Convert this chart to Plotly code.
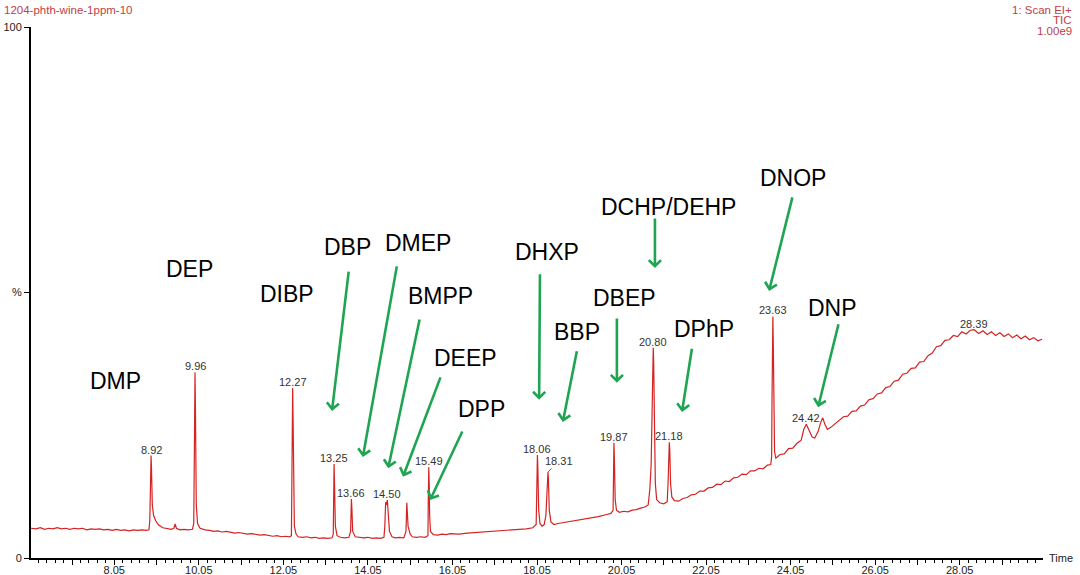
import plotly.graph_objects as go

# ---------------- data ----------------
rt_min = [
    6.08, 6.2, 6.3, 6.4, 6.5, 6.6, 6.7, 6.8, 6.9, 7.0, 7.1, 7.2, 7.3, 7.4, 7.5, 7.6, 7.7, 7.8, 7.9, 8.0, 8.1, 8.2, 8.3, 8.4, 8.5, 8.6, 8.7, 8.8, 8.87,
    8.89, 8.91, 8.92, 8.93, 8.95, 8.98, 9.03, 9.1, 9.2, 9.3, 9.4, 9.46, 9.49, 9.52, 9.6, 9.7, 9.8, 9.9,
    9.93, 9.95, 9.96, 9.97, 9.99, 10.02, 10.08, 10.2, 10.3, 10.4, 10.5, 10.6, 10.7, 10.8, 10.9, 11.0, 11.1, 11.2, 11.3, 11.4, 11.5, 11.6, 11.7, 11.8, 11.9, 12.0, 12.1, 12.2, 12.24,
    12.25, 12.26, 12.27, 12.28, 12.29, 12.31, 12.35, 12.4, 12.5, 12.6, 12.7, 12.8, 12.9, 13.0, 13.1, 13.2,
    13.23, 13.24, 13.25, 13.26, 13.28, 13.32, 13.4, 13.5, 13.6, 13.64,
    13.65, 13.66, 13.67, 13.69, 13.75, 13.85, 13.95, 14.05, 14.15, 14.25, 14.35, 14.43,
    14.45, 14.47, 14.49, 14.51, 14.53, 14.56, 14.62, 14.7, 14.8, 14.9, 14.95,
    14.96, 14.97, 14.98, 15.0, 15.05, 15.1, 15.2, 15.3, 15.4, 15.47,
    15.48, 15.49, 15.50, 15.51, 15.53, 15.6, 15.7, 15.8, 15.9, 16.0, 16.2, 16.4, 16.6, 16.8, 17.0, 17.2, 17.4, 17.6, 17.8, 17.95, 18.03,
    18.05, 18.06, 18.07, 18.09, 18.12, 18.17, 18.22, 18.26, 18.29, 18.31, 18.32, 18.34, 18.38, 18.45, 18.55, 18.7, 18.9, 19.1, 19.3, 19.5, 19.7, 19.8, 19.85,
    19.86, 19.87, 19.88, 19.9, 19.93, 20.0, 20.1, 20.2, 20.3, 20.4, 20.5, 20.6, 20.68, 20.72, 20.75, 20.77, 20.79, 20.80, 20.81, 20.83, 20.85, 20.88, 20.95, 21.05, 21.13, 21.15, 21.17, 21.18, 21.19, 21.21, 21.24, 21.3,
    21.4, 21.5, 21.6, 21.7, 21.8, 21.9, 22.0, 22.1, 22.2, 22.3, 22.4, 22.5, 22.6, 22.7, 22.8, 22.9, 23.0, 23.1, 23.2, 23.3, 23.4, 23.5, 23.58,
    23.6, 23.61, 23.62, 23.63, 23.64, 23.65, 23.67, 23.7, 23.8, 23.9, 24.0, 24.1, 24.2, 24.3, 24.36, 24.42, 24.5, 24.56, 24.62, 24.7, 24.76, 24.81, 24.86, 24.92,
    25.0, 25.1, 25.2, 25.3, 25.4, 25.5, 25.6, 25.7, 25.8, 25.9, 26.0, 26.1, 26.2, 26.3, 26.4, 26.5, 26.6, 26.7, 26.8, 26.9, 27.0, 27.1, 27.2, 27.3, 27.4, 27.5, 27.6, 27.7, 27.8, 27.9, 28.0, 28.1, 28.2, 28.3,
    28.39, 28.5, 28.6, 28.7, 28.8, 28.9, 29.0, 29.1, 29.2, 29.3, 29.4, 29.5, 29.6, 29.7, 29.8, 29.9, 30.0,
]

intensity_pct = [
    5.6, 5.5, 5.7, 5.4, 5.6, 5.5, 5.7, 5.5, 5.6, 5.4, 5.6, 5.5, 5.6, 5.3, 5.5, 5.4, 5.5, 5.3, 5.4, 5.2, 5.4, 5.2, 5.3, 5.1, 5.3, 5.2, 5.3, 5.2, 5.3,
    7.0, 15.0, 19.3, 17.0, 10.0, 8.0, 7.0, 6.2, 5.7, 5.5, 5.4, 5.6, 6.4, 5.6, 5.3, 5.4, 5.3, 5.4,
    6.5, 25.0, 35.0, 28.0, 10.0, 6.5, 5.6, 5.3, 5.2, 5.0, 5.1, 4.9, 5.0, 4.8, 4.7, 4.8, 4.6, 4.5, 4.6, 4.4, 4.3, 4.4, 4.2, 4.1, 4.2, 4.0, 4.1, 4.0, 4.2,
    20.0, 30.0, 32.0, 26.0, 12.0, 6.0, 4.5, 4.0, 3.9, 4.0, 3.8, 3.9, 3.7, 3.8, 3.7, 3.8,
    4.5, 15.0, 17.7, 14.0, 6.0, 4.2, 3.9, 3.8, 3.9, 5.0,
    9.5, 11.1, 9.5, 5.0, 4.0, 3.9, 3.8, 3.9, 3.7, 3.8, 3.7, 3.9,
    6.0, 10.5, 10.0, 10.9, 9.0, 5.0, 4.0, 3.8, 3.9, 3.8, 5.0,
    9.0, 10.4, 9.0, 6.0, 4.5, 4.0, 3.9, 4.0, 3.9, 4.2,
    12.0, 17.1, 14.0, 8.0, 5.0, 4.4, 4.3, 4.5, 4.4, 4.6, 4.5, 4.7, 4.8, 4.9, 5.0, 5.1, 5.3, 5.4, 5.5, 5.7, 6.3,
    15.0, 19.4, 17.0, 9.0, 6.5, 6.0, 6.3, 8.0, 14.0, 16.2, 15.0, 9.0, 6.8, 6.3, 6.5, 6.7, 6.9, 7.2, 7.5, 7.8, 8.2, 8.4, 9.0,
    18.0, 21.7, 19.0, 11.0, 9.0, 8.6, 8.8, 8.7, 9.0, 9.1, 9.4, 9.6, 10.0, 13.0, 17.5, 26.0, 36.0, 39.6, 37.0, 25.0, 14.0, 11.0, 10.4, 10.2, 10.6, 14.0, 20.0, 21.8, 20.5, 14.0, 11.5, 10.8,
    10.7, 11.2, 11.4, 11.9, 12.0, 12.6, 12.6, 13.2, 13.3, 13.9, 13.8, 14.5, 14.4, 15.1, 15.2, 15.8, 15.7, 16.4, 16.4, 16.9, 16.8, 17.5, 17.6,
    19.0, 30.0, 42.0, 45.5, 40.0, 28.0, 20.0, 18.8, 19.5, 19.6, 20.6, 20.7, 21.6, 22.2, 24.2, 25.2, 23.8, 22.8, 22.6, 23.8, 25.5, 26.4, 25.2, 24.2,
    24.6, 25.3, 25.9, 26.6, 26.7, 27.6, 27.7, 28.6, 28.8, 29.8, 30.0, 30.9, 31.1, 32.1, 32.3, 33.3, 33.5, 34.6, 34.8, 35.7, 35.8, 36.9, 37.0, 38.1, 38.6, 39.8, 40.0, 41.0, 41.1, 41.9, 41.7, 42.6, 42.2, 42.9,
    43.0, 42.3, 42.8, 42.1, 42.6, 41.9, 42.4, 41.7, 42.2, 41.5, 42.0, 41.3, 41.8, 41.1, 41.5, 40.9, 41.2,
]

peak_label_rt = [8.92, 9.96, 12.27, 13.25, 13.66, 14.50, 15.49, 18.06, 18.31,
                 19.87, 20.80, 21.18, 23.63, 24.42, 28.39]

compound_names = ["DMP", "DEP", "DIBP", "DBP", "DMEP", "BMPP", "DEEP", "DPP",
                  "DHXP", "BBP", "DBEP", "DCHP/DEHP", "DPhP", "DNOP", "DNP"]

x_tick_vals = [7.05, 8.05, 9.05, 10.05, 11.05, 12.05, 13.05, 14.05, 15.05, 16.05, 17.05,
               18.05, 19.05, 20.05, 21.05, 22.05, 23.05, 24.05, 25.05, 26.05, 27.05, 28.05, 29.05]
x_tick_text = ["", "8.05", "", "10.05", "", "12.05", "", "14.05", "", "16.05", "",
               "18.05", "", "20.05", "", "22.05", "", "24.05", "", "26.05", "", "28.05", ""]

# ---------------- layout positions (time, %) for names and arrows ----------------
name_pos = [(8.09, 33.3), (9.84, 54.4), (12.14, 49.7), (13.56, 58.6), (15.23, 59.3),
            (15.76, 49.3), (16.35, 37.7), (16.73, 28.1), (18.29, 57.6), (19.00, 42.6),
            (20.11, 49.0), (21.15, 66.1), (22.00, 43.1), (24.10, 71.6), (25.05, 47.1)]

# (tail_t, tail_y, head_t, head_y)
arrow_pos = [(13.60, 54.2, 13.20, 27.7), (14.74, 55.2, 13.93, 19.0), (15.28, 45.2, 14.53, 16.9),
             (15.78, 34.3, 14.88, 15.3), (16.30, 24.1, 15.52, 10.9), (18.12, 53.7, 18.10, 29.8),
             (19.00, 39.2, 18.66, 25.6), (19.94, 45.4, 19.94, 33.0), (20.84, 64.2, 20.84, 54.6),
             (21.72, 39.7, 21.48, 27.5), (24.10, 68.2, 23.54, 50.3), (25.19, 44.3, 24.70, 28.4)]

FONT = "Liberation Sans, Arial, sans-serif"
GREEN = "#1fa552"
TRACE = "#d62222"
HEADER = "#c0404a"

fig = go.Figure()
fig.add_trace(go.Scatter(x=rt_min, y=intensity_pct, mode="lines",
                         line=dict(color=TRACE, width=1.2), hoverinfo="skip",
                         showlegend=False))

ann = []
# peak retention-time labels, heights taken from the trace
for rt in peak_label_rt:
    top = max(v for t, v in zip(rt_min, intensity_pct) if abs(t - rt) <= 0.03)
    txt = f"{rt:.2f}"
    if txt == "18.31":
        ann.append(dict(x=rt, y=top, text=txt, showarrow=True, arrowhead=0,
                        arrowwidth=0.8, arrowcolor="#333", ax=11, ay=-11,
                        font=dict(family=FONT, size=11, color="#333")))
    else:
        ann.append(dict(x=rt, y=top, text=txt, showarrow=False, yanchor="bottom",
                        yshift=-2, font=dict(family=FONT, size=11, color="#333")))

for name, (tx, ty) in zip(compound_names, name_pos):
    ann.append(dict(x=tx, y=ty, text=name, showarrow=False,
                    font=dict(family=FONT, size=23, color="black")))

for (t0, y0, t1, y1) in arrow_pos:
    ann.append(dict(x=t1, y=y1, ax=t0, ay=y0, axref="x", ayref="y", text="",
                    showarrow=True, arrowhead=4, arrowsize=0.9, arrowwidth=2.6,
                    arrowcolor=GREEN, standoff=0))

# header texts
ann.append(dict(xref="paper", yref="paper", x=-0.0287, y=1.032, xanchor="left",
                yanchor="middle", text="1204-phth-wine-1ppm-10", showarrow=False,
                font=dict(family=FONT, size=11.5, color=HEADER)))
for i, line in enumerate(["1: Scan EI+", "TIC", "1.00e9"]):
    ann.append(dict(xref="paper", yref="paper", x=1.0306, y=(558 - 10 - 10.5 * i) / 531,
                    xanchor="right", yanchor="middle", text=line, showarrow=False,
                    font=dict(family=FONT, size=11.5, color=HEADER)))
ann.append(dict(xref="paper", yref="paper", x=1.004, y=0, xanchor="left",
                yanchor="middle", text="Time", showarrow=False,
                font=dict(family=FONT, size=11, color="#222")))

fig.update_layout(
    width=1080, height=575,
    margin=dict(l=31, r=37, t=27, b=17, autoexpand=False),
    paper_bgcolor="white", plot_bgcolor="white",
    annotations=ann,
    xaxis=dict(range=[6.08, 30.02], showgrid=False, zeroline=False, automargin=False,
               showline=True, linecolor="black", linewidth=1.5,
               tickmode="array", tickvals=x_tick_vals, ticktext=x_tick_text,
               ticks="outside", ticklen=5, tickwidth=1, tickcolor="black",
               ticklabelstandoff=-4,
               minor=dict(tickmode="linear", tick0=6.05, dtick=0.2, ticks="outside",
                          ticklen=3, tickcolor="black", showgrid=False),
               tickfont=dict(family=FONT, size=11, color="#222")),
    yaxis=dict(range=[0, 100], showgrid=False, zeroline=False, automargin=False,
               showline=True, linecolor="black", linewidth=2,
               tickmode="array", tickvals=[0, 50, 100], ticktext=["0", "%", "100"],
               ticks="outside", ticklen=5, tickcolor="black",
               tickfont=dict(family=FONT, size=11, color="#222")),
)

fig.write_html("out.html", config={"displayModeBar": False},
               post_script="document.body.style.margin='0px';document.body.style.overflow='hidden';")
